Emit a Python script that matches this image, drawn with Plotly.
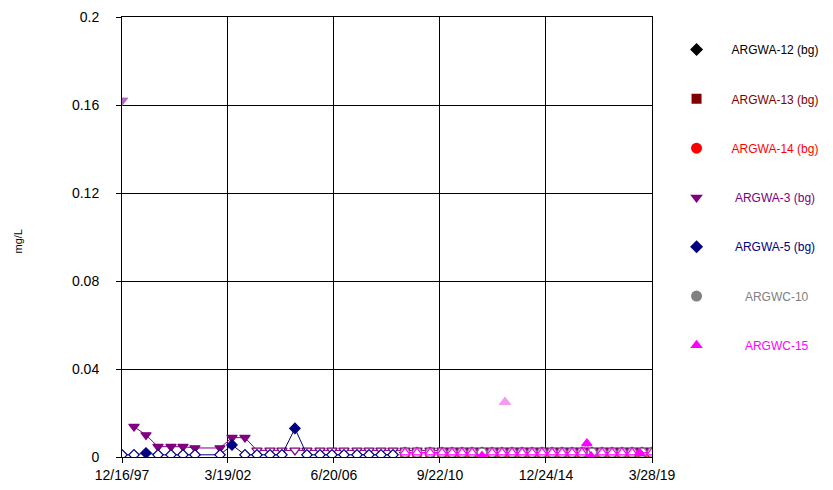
import plotly.graph_objects as go

# ---------------- data ----------------
early_dates = ["1997-12-16", "1998-06-10", "1998-12-03", "1999-05-28", "1999-12-04",
               "2000-05-28", "2000-11-20", "2001-11-22", "2002-05-17", "2002-11-23",
               "2003-05-18", "2003-11-25", "2004-05-18", "2004-11-25", "2005-05-20",
               "2005-11-27", "2006-05-22", "2006-11-14", "2007-05-24", "2007-11-16",
               "2008-05-10", "2008-11-02"]

late_dates = ["2009-04-27", "2009-10-20", "2010-04-29", "2010-10-21", "2011-03-17",
              "2011-08-11", "2012-01-04", "2012-05-30", "2012-10-24", "2013-03-19",
              "2013-08-13", "2014-01-07", "2014-06-02", "2014-10-27", "2015-03-23",
              "2015-08-16", "2016-01-10", "2016-06-04", "2016-10-29", "2017-03-25",
              "2017-08-18", "2018-01-12", "2018-06-08", "2018-11-01", "2019-03-28"]

wc15_dates = ["2009-04-27", "2009-10-20", "2010-04-29", "2010-10-21", "2011-03-17",
              "2011-08-11", "2012-01-04", "2012-05-30", "2012-10-24", "2013-03-19",
              "2013-08-13", "2014-01-07", "2014-06-02", "2014-10-27", "2015-03-23",
              "2015-08-16", "2016-01-10", "2016-06-04", "2016-08-15", "2016-10-15",
              "2017-03-25", "2017-08-18", "2018-01-12", "2018-06-08", "2018-10-01",
              "2019-03-28"]

argwa12_values = [0.002, 0.002, 0.002, 0.002, 0.002, 0.002, 0.002, 0.002, 0.002,
                  0.002, 0.002, 0.002, 0.002, 0.002, 0.002, 0.002, 0.002, 0.002,
                  0.002, 0.002, 0.002, 0.002, 0.002, 0.002, 0.002]
argwa12_detect = [0] * 25

argwa13_values = [0.002, 0.002, 0.002, 0.002, 0.002, 0.002, 0.002, 0.0003, 0.002, 0.002,
                  0.002, 0.002, 0.002, 0.002, 0.002, 0.002, 0.002, 0.002, 0.002, 0.002,
                  0.002, 0.002, 0.002, 0.002, 0.002]
argwa13_detect = [0, 0, 0, 0, 0, 0, 0, 1, 0, 0, 0, 0, 0, 0, 0, 0, 0, 0, 0, 0, 0, 0, 0, 0, 0]

argwa14_values = [0.002, 0.002, 0.002, 0.002, 0.002, 0.002, 0.002, 0.002, 0.002, 0.0012,
                  0.002, 0.002, 0.002, 0.002, 0.002, 0.002, 0.002, 0.002, 0.002, 0.002,
                  0.002, 0.002, 0.002, 0.002, 0.002]
argwa14_detect = [0, 0, 0, 0, 0, 0, 0, 0, 0, 1, 0, 0, 0, 0, 0, 0, 0, 0, 0, 0, 0, 0, 0, 0, 0]

argwa3_early_values = [None, 0.0138, 0.0100, 0.0047, 0.0047, 0.0047, 0.0041, 0.0041, 0.0088,
                       0.0088, 0.003, 0.003, 0.003, 0.003, 0.003, 0.003, 0.003,
                       0.003, 0.003, 0.003, 0.003, 0.003]
argwa3_early_detect = [0, 1, 1, 1, 1, 1, 1, 1, 1, 1, 0, 0, 0, 0, 0, 0, 0, 0, 0, 0, 0, 0]
argwa3_late_values = [0.003] * 25
argwa3_late_detect = [0] * 25

argwa5_values = [0.001, 0.001, 0.0018, 0.001, 0.001, 0.001, 0.001, 0.001, 0.0055,
                 0.001, 0.001, 0.001, 0.001, 0.013, 0.001, 0.001, 0.001, 0.001,
                 0.001, 0.001, 0.001, 0.001]
argwa5_detect = [0, 0, 1, 0, 0, 0, 0, 0, 1, 0, 0, 0, 0, 1, 0, 0, 0, 0, 0, 0, 0, 0]

argwc10_values = [0.002] * 25
argwc10_detect = [0] * 25

argwc15_values = [0.002, 0.002, 0.002, 0.002, 0.002, 0.002, 0.002, 0.0005, 0.002, 0.002,
                  0.002, 0.002, 0.002, 0.002, 0.002, 0.002, 0.002, 0.002, 0.0062, 0.0003,
                  0.002, 0.002, 0.002, 0.002, 0.0018, 0.002]
argwc15_detect = [0, 0, 0, 0, 0, 0, 0, 1, 0, 0, 0, 0, 0, 0, 0, 0, 0, 0, 1, 1,
                  0, 0, 0, 0, 1, 0]

# isolated (unconnected) results
outlier_dates = ["1997-12-16", "2013-05-02"]
outlier_values = [0.162, 0.025]
outlier_series = ["ARGWA-3 (bg)", "ARGWC-15"]

tick_dates = ["1997-12-16", "2002-03-19", "2006-06-20", "2010-09-22", "2014-12-24", "2019-03-28"]
tick_labels = ["12/16/97", "3/19/02", "6/20/06", "9/22/10", "12/24/14", "3/28/19"]
y_ticks = [0, 0.04, 0.08, 0.12, 0.16, 0.2]
y_tick_labels = ["0", "0.04", "0.08", "0.12", "0.16", "0.2"]
y_title = "mg/L"

# ---------------- styles ----------------
styles = {
    "ARGWA-12 (bg)": dict(color="#000000", symbol="diamond", size=8, pad=""),
    "ARGWA-13 (bg)": dict(color="#800000", symbol="square", size=8, pad=""),
    "ARGWA-14 (bg)": dict(color="#FF0000", symbol="circle", size=9, pad=""),
    "ARGWA-3 (bg)": dict(color="#800080", symbol="triangle-down", size=9, pad="&nbsp;"),
    "ARGWA-5 (bg)": dict(color="#000080", symbol="diamond", size=8, pad="&nbsp;"),
    "ARGWC-10": dict(color="#808080", symbol="circle", size=9, pad="&nbsp;&nbsp;&nbsp;&nbsp;"),
    "ARGWC-15": dict(color="#FF00FF", symbol="triangle-up", size=9, pad="&nbsp;&nbsp;&nbsp;&nbsp;"),
}
light = {"ARGWA-3 (bg)": "#B368C4", "ARGWC-15": "#F59AF0"}

fig = go.Figure()


def add_series(name, dates, values, detect):
    st = styles[name]
    fills = [st["color"] if d else "white" for d in detect]
    fig.add_trace(go.Scatter(
        x=dates, y=values, mode="lines+markers", showlegend=False,
        line=dict(color=st["color"], width=1),
        marker=dict(symbol=st["symbol"], size=st["size"], color=fills,
                    line=dict(color=st["color"], width=1.2)),
        connectgaps=False, hoverinfo="x+y", name=name))


add_series("ARGWA-12 (bg)", late_dates, argwa12_values, argwa12_detect)
add_series("ARGWA-13 (bg)", late_dates, argwa13_values, argwa13_detect)
add_series("ARGWA-14 (bg)", late_dates, argwa14_values, argwa14_detect)
add_series("ARGWA-3 (bg)", early_dates + late_dates,
           argwa3_early_values + argwa3_late_values,
           argwa3_early_detect + argwa3_late_detect)
add_series("ARGWA-5 (bg)", early_dates, argwa5_values, argwa5_detect)
add_series("ARGWC-10", late_dates, argwc10_values, argwc10_detect)
add_series("ARGWC-15", wc15_dates, argwc15_values, argwc15_detect)

for d, v, s in zip(outlier_dates, outlier_values, outlier_series):
    st = styles[s]
    fig.add_trace(go.Scatter(
        x=[d], y=[v], mode="markers", showlegend=False,
        marker=dict(symbol=st["symbol"], size=st["size"] + 1, color=light[s],
                    line=dict(color=light[s], width=1))))

# legend-only entries
for i, (name, st) in enumerate(styles.items()):
    fig.add_trace(go.Scatter(
        x=[None], y=[None], mode="markers", legendgroup=f"g{i}",
        name=f"{st['pad']}<span style='color:{st['color']}'>{name}</span>",
        marker=dict(symbol=st["symbol"], size=st["size"] + 2, color=st["color"])))

axis_common = dict(showline=True, linecolor="black", linewidth=1, mirror=True,
                   showgrid=True, gridcolor="black", gridwidth=1,
                   ticks="outside", ticklen=5, tickcolor="black", zeroline=False,
                   automargin=False,
                   tickfont=dict(size=14, color="black"))

fig.update_xaxes(type="date", range=["1997-12-16", "2019-03-28"],
                 tickvals=tick_dates, ticktext=tick_labels, **axis_common)
fig.update_yaxes(range=[0, 0.2], tickvals=y_ticks, ticktext=y_tick_labels,
                 ticklabelstandoff=14, **axis_common)

fig.add_annotation(text=y_title, xref="paper", yref="paper", x=-0.196, y=0.49,
                   textangle=-90, showarrow=False, xanchor="center", yanchor="middle",
                   font=dict(size=11, color="black"))

fig.update_layout(
    width=833, height=490,
    margin=dict(l=122, r=181, t=17, b=33, autoexpand=False),
    paper_bgcolor="white", plot_bgcolor="white",
    font=dict(family="Arial, Liberation Sans, sans-serif", color="black"),
    legend=dict(x=1.018, y=0.959, xanchor="left", yanchor="top",
                font=dict(size=12), tracegroupgap=30.3, itemwidth=60,
                bgcolor="rgba(0,0,0,0)"),
    showlegend=True,
)

fig.write_html("out.html", post_script="document.body.style.margin='0';",
               config={"displayModeBar": False})
